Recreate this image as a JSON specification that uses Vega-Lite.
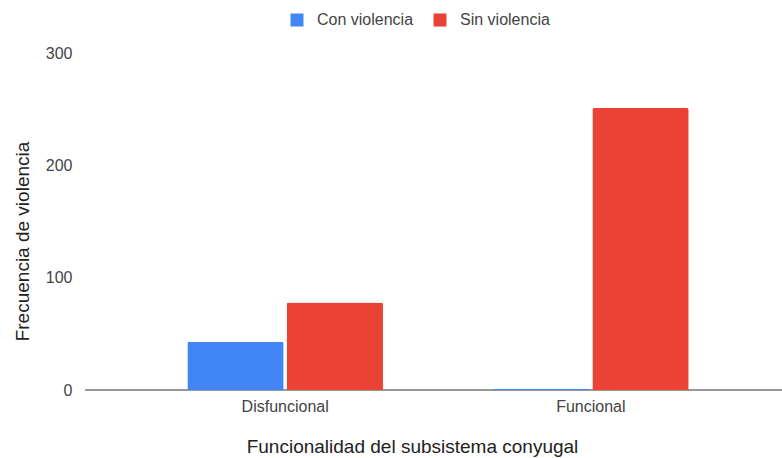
{
  "$schema": "https://vega.github.io/schema/vega-lite/v6.json",
  "autosize": "none",
  "width": 697,
  "height": 337,
  "padding": {"left": 85, "top": 53, "right": 0, "bottom": 68},
  "background": "white",
  "config": {
    "view": {"stroke": null},
    "font": "Liberation Sans",
    "axis": {"labelFont": "Liberation Sans", "titleFont": "Liberation Sans"}
  },
  "data": {
    "values": [
      {"grupo": "Disfuncional", "serie": "Con violencia", "valor": 43},
      {"grupo": "Disfuncional", "serie": "Sin violencia", "valor": 78},
      {"grupo": "Funcional", "serie": "Con violencia", "valor": 1},
      {"grupo": "Funcional", "serie": "Sin violencia", "valor": 251}
    ]
  },
  "layer": [
    {
      "mark": {"type": "rule", "color": "#999999", "strokeWidth": 1.5},
      "encoding": {"y": {"datum": 0}}
    },
    {
      "mark": {"type": "bar", "cornerRadiusTopLeft": 2, "cornerRadiusTopRight": 2},
      "encoding": {
        "x": {
          "field": "grupo",
          "type": "nominal",
          "scale": {"paddingInner": 0.36, "paddingOuter": 0.32, "align": 0.523},
          "axis": {
            "title": "Funcionalidad del subsistema conyugal",
            "labelAngle": 0,
            "domain": false,
            "ticks": false,
            "labelPadding": 8,
            "labelFontSize": 16,
            "labelColor": "#444444",
            "titleFontSize": 19,
            "titleFontWeight": "normal",
            "titleColor": "#222222",
            "titlePadding": 23,
            "titleX": 327
          }
        },
        "xOffset": {
          "field": "serie",
          "type": "nominal",
          "scale": {"paddingInner": 0.03}
        },
        "y": {
          "field": "valor",
          "type": "quantitative",
          "scale": {"domain": [0, 300], "nice": false},
          "axis": {
            "title": "Frecuencia de violencia",
            "values": [0, 100, 200, 300],
            "domain": false,
            "ticks": false,
            "labelPadding": 13,
            "labelFontSize": 16,
            "labelColor": "#444444",
            "gridColor": "#dddddd",
            "titleFontSize": 19,
            "titleFontWeight": "normal",
            "titleColor": "#222222",
            "titlePadding": 13,
            "titleY": 188
          }
        },
        "color": {
          "field": "serie",
          "type": "nominal",
          "scale": {"domain": ["Con violencia", "Sin violencia"], "range": ["#4285F4", "#EA4335"]},
          "legend": {
            "title": null,
            "orient": "none",
            "direction": "horizontal",
            "legendX": 204,
            "legendY": -41,
            "symbolType": "square",
            "symbolSize": 169,
            "symbolStrokeWidth": 0,
            "labelFontSize": 16,
            "labelColor": "#444444",
            "labelFont": "Liberation Sans",
            "columnPadding": 18,
            "labelOffset": 12
          }
        }
      }
    }
  ]
}
